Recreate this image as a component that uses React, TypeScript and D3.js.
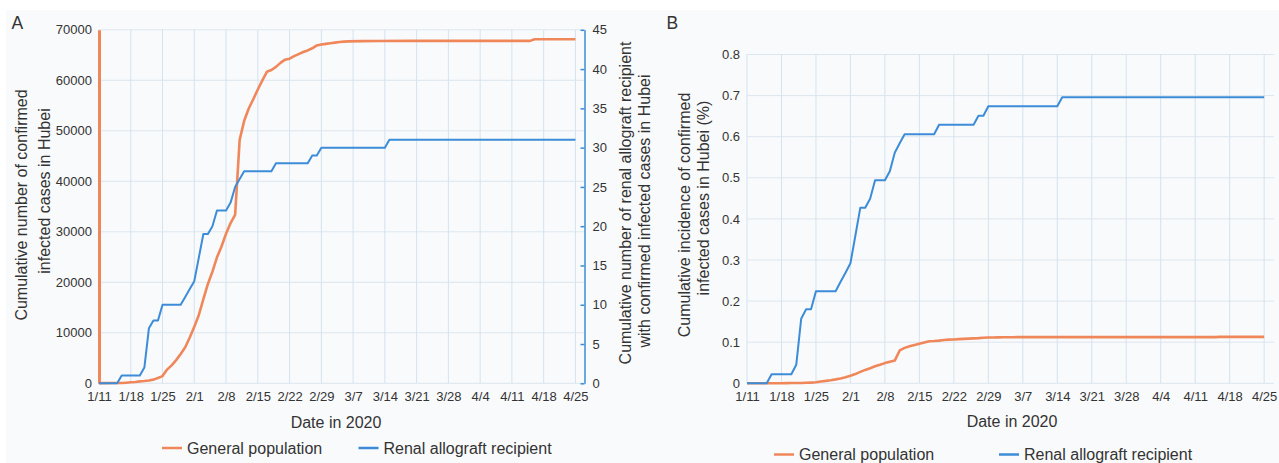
import React, { useEffect, useRef } from "react";
import * as d3 from "d3";

// x-axis tick labels (weekly)
const dateTicks = ["1/11", "1/18", "1/25", "2/1", "2/8", "2/15", "2/22", "2/29", "3/7", "3/14", "3/21", "3/28", "4/4", "4/11", "4/18", "4/25"];

// general population, cumulative confirmed cases in Hubei
const generalDates = ["1/11", "1/15", "1/16", "1/17", "1/18", "1/19", "1/20", "1/21", "1/22", "1/23", "1/24", "1/25", "1/26", "1/27", "1/28", "1/29", "1/30", "1/31", "2/1", "2/2", "2/3", "2/4", "2/5", "2/6", "2/7", "2/8", "2/9", "2/10", "2/11", "2/12", "2/13", "2/14", "2/15", "2/16", "2/17", "2/18", "2/19", "2/20", "2/21", "2/22", "2/23", "2/24", "2/25", "2/26", "2/27", "2/28", "2/29", "3/1", "3/2", "3/3", "3/4", "3/5", "3/6", "3/9", "3/13", "3/20", "4/15", "4/16", "4/25"];
const generalCases = [41, 45, 62, 121, 198, 270, 375, 444, 549, 729, 1052, 1423, 2714, 3554, 4586, 5806, 7153, 9074, 11177, 13522, 16678, 19665, 22112, 24953, 27100, 29631, 31728, 33366, 48206, 51986, 54406, 56249, 58182, 59989, 61682, 62031, 62662, 63454, 64084, 64287, 64786, 65187, 65596, 65914, 66337, 66907, 67103, 67217, 67332, 67466, 67592, 67666, 67707, 67760, 67790, 67800, 67803, 68128, 68128];
const generalIncidence = [0.0001, 0.0001, 0.0001, 0.0002, 0.0003, 0.0004, 0.0006, 0.0007, 0.0009, 0.0012, 0.0017, 0.0024, 0.0045, 0.0059, 0.0076, 0.0096, 0.0119, 0.015, 0.0185, 0.0224, 0.0277, 0.0326, 0.0367, 0.0414, 0.0449, 0.0491, 0.0526, 0.0553, 0.0799, 0.0862, 0.0902, 0.0933, 0.0965, 0.0995, 0.1023, 0.1029, 0.1039, 0.1052, 0.1063, 0.1066, 0.1074, 0.1081, 0.1088, 0.1093, 0.11, 0.111, 0.1113, 0.1115, 0.1117, 0.1119, 0.1121, 0.1122, 0.1123, 0.1124, 0.1124, 0.1124, 0.1124, 0.113, 0.113];

// renal allograft recipients
const renalDates = ["1/11", "1/15", "1/16", "1/20", "1/21", "1/22", "1/23", "1/24", "1/25", "1/29", "1/30", "1/31", "2/1", "2/2", "2/3", "2/4", "2/5", "2/6", "2/8", "2/9", "2/10", "2/11", "2/12", "2/18", "2/19", "2/26", "2/27", "2/28", "2/29", "3/14", "3/15", "4/25"];
const renalCases = [0, 0, 1, 1, 2, 7, 8, 8, 10, 10, 11, 12, 13, 16, 19, 19, 20, 22, 22, 23, 25, 26, 27, 27, 28, 28, 29, 29, 30, 30, 31, 31];
const renalIncidence = [0, 0, 0.022, 0.022, 0.045, 0.157, 0.18, 0.18, 0.224, 0.224, 0.247, 0.269, 0.292, 0.359, 0.427, 0.427, 0.449, 0.494, 0.494, 0.516, 0.561, 0.584, 0.606, 0.606, 0.629, 0.629, 0.651, 0.651, 0.674, 0.674, 0.696, 0.696];

const W = 1279;
const H = 463;
const ORANGE = "#f0875a";
const BLUE = "#3c8cd7";
const GRID_V = "#d3e3f0";
const GRID_H = "#dde6ee";
const TEXT = "#333";
const FONT = "'Liberation Sans', Arial, sans-serif";

const parseDate = (s: string) => d3.timeParse("%Y/%m/%d")("2020/" + s) as Date;

export default function App() {
  const svgRef = useRef<SVGSVGElement>(null);

  useEffect(() => {
    const svg = d3.select(svgRef.current);
    svg.selectAll("*").remove();

    svg.append("rect").attr("x", 6).attr("y", 10).attr("width", W).attr("height", H).attr("fill", "#f9fafc");

    const start = parseDate("1/11");
    const end = parseDate("4/27");
    const tickDates = dateTicks.map(parseDate);

    const drawPanel = (
      g: d3.Selection<SVGGElement, unknown, null, undefined>,
      x: d3.ScaleTime<number, number>,
      y: d3.ScaleLinear<number, number>,
      yTicks: number[],
      yFmt: (v: number) => string
    ) => {
      const [x0, x1] = x.range();
      const [y0, y1] = y.range();
      // grid
      g.append("g")
        .selectAll("line")
        .data(yTicks)
        .join("line")
        .attr("x1", x0)
        .attr("x2", x1)
        .attr("y1", (d) => y(d))
        .attr("y2", (d) => y(d))
        .attr("stroke", GRID_H);
      g.append("g")
        .selectAll("line")
        .data(tickDates)
        .join("line")
        .attr("x1", (d) => x(d))
        .attr("x2", (d) => x(d))
        .attr("y1", y0)
        .attr("y2", y1)
        .attr("stroke", GRID_V);

      const xAxis = g
        .append("g")
        .attr("transform", `translate(0,${y0})`)
        .call(d3.axisBottom(x).tickValues(tickDates).tickFormat((d) => d3.timeFormat("%-m/%-d")(d as Date)).tickSize(0).tickPadding(8));
      xAxis.select(".domain").remove();

      const yAxis = g
        .append("g")
        .attr("transform", `translate(${x0},0)`)
        .call(d3.axisLeft(y).tickValues(yTicks).tickFormat((d) => yFmt(d as number)).tickSize(0).tickPadding(7));
      return { xAxis, yAxis };
    };

    const styleText = (sel: d3.Selection<any, any, any, any>) =>
      sel.selectAll("text").attr("font-size", 13).attr("font-family", FONT).attr("fill", TEXT);

    // ---------- Panel A ----------
    const gA = svg.append("g");
    const xA = d3.scaleTime().domain([start, end]).range([99, 584.5]);
    const yA = d3.scaleLinear().domain([0, 70000]).range([383.3, 29.8]);
    const yA2 = d3.scaleLinear().domain([0, 45]).range([383.3, 29.8]);
    const a = drawPanel(gA, xA, yA, d3.range(0, 70001, 10000), (v) => String(v));
    styleText(a.xAxis);
    styleText(a.yAxis);
    a.yAxis.select(".domain").attr("stroke", ORANGE).attr("stroke-width", 3);

    const rightAxis = gA
      .append("g")
      .attr("transform", `translate(584.5,0)`)
      .call(d3.axisRight(yA2).tickValues(d3.range(0, 46, 5)).tickSizeInner(-4).tickSizeOuter(0).tickPadding(8));
    rightAxis.select(".domain").attr("stroke", BLUE).attr("stroke-width", 1.5);
    rightAxis.selectAll(".tick line").attr("stroke", BLUE).attr("stroke-width", 1.5);
    styleText(rightAxis);

    const lineA = d3
      .line<[Date, number]>()
      .x((d) => xA(d[0]))
      .y((d) => yA(d[1]));
    const lineA2 = d3
      .line<[Date, number]>()
      .x((d) => xA(d[0]))
      .y((d) => yA2(d[1]));

    gA.append("path")
      .datum(generalDates.map((d, i) => [parseDate(d), generalCases[i]] as [Date, number]))
      .attr("d", lineA)
      .attr("fill", "none")
      .attr("stroke", ORANGE)
      .attr("stroke-width", 2.6)
      .attr("stroke-linejoin", "round");
    gA.append("path")
      .datum(renalDates.map((d, i) => [parseDate(d), renalCases[i]] as [Date, number]))
      .attr("d", lineA2)
      .attr("fill", "none")
      .attr("stroke", BLUE)
      .attr("stroke-width", 2)
      .attr("stroke-linejoin", "round");

    // ---------- Panel B ----------
    const gB = svg.append("g");
    const xB = d3.scaleTime().domain([start, end]).range([747, 1274]);
    const yB = d3.scaleLinear().domain([0, 0.8]).range([383.3, 54.5]);
    const bTicks = d3.range(0, 9).map((i) => i / 10);
    const b = drawPanel(gB, xB, yB, bTicks, (v) => d3.format("~g")(v));
    styleText(b.xAxis);
    styleText(b.yAxis);
    b.yAxis.select(".domain").remove();

    const lineB = d3
      .line<[Date, number]>()
      .x((d) => xB(d[0]))
      .y((d) => yB(d[1]));
    gB.append("path")
      .datum(generalDates.map((d, i) => [parseDate(d), generalIncidence[i]] as [Date, number]))
      .attr("d", lineB)
      .attr("fill", "none")
      .attr("stroke", ORANGE)
      .attr("stroke-width", 2.6)
      .attr("stroke-linejoin", "round");
    gB.append("path")
      .datum(renalDates.map((d, i) => [parseDate(d), renalIncidence[i]] as [Date, number]))
      .attr("d", lineB)
      .attr("fill", "none")
      .attr("stroke", BLUE)
      .attr("stroke-width", 2)
      .attr("stroke-linejoin", "round");

    // ---------- text ----------
    const label = (x: number, y: number, txt: string, size: number, anchor = "middle", rotate = false) =>
      svg
        .append("text")
        .attr("transform", `translate(${x},${y})${rotate ? " rotate(-90)" : ""}`)
        .attr("text-anchor", anchor)
        .attr("font-family", FONT)
        .attr("font-size", size)
        .attr("fill", TEXT)
        .text(txt);

    label(11.5, 29.3, "A", 17.5, "start");
    label(666.5, 29.3, "B", 17.5, "start");

    label(26.5, 205, "Cumulative number of confirmed", 16, "middle", true);
    label(50, 191, "infected cases in Hubei", 16, "middle", true);
    label(631, 203, "Cumulative number of renal allograft recipient", 16, "middle", true);
    label(650, 211, "with confirmed infected cases in Hubei", 16, "middle", true);
    label(690, 215, "Cumulative incidence of confirmed", 16, "middle", true);
    label(708.5, 198, "infected cases in Hubei (%)", 16, "middle", true);

    label(336, 427.5, "Date in 2020", 16);
    label(1012, 427, "Date in 2020", 16);

    // legends
    const legend = (lx: number, ly: number, color: string, txt: string) => {
      svg.append("line").attr("x1", lx).attr("x2", lx + 20).attr("y1", ly).attr("y2", ly).attr("stroke", color).attr("stroke-width", 2.5);
      label(lx + 25, ly + 5.5, txt, 16, "start");
    };
    legend(162, 448, ORANGE, "General population");
    legend(358.5, 448, BLUE, "Renal allograft recipient");
    legend(774, 454.5, ORANGE, "General population");
    legend(999, 454.5, BLUE, "Renal allograft recipient");
  }, []);

  return <svg ref={svgRef} width={W} height={H} style={{ position: "absolute", left: 0, top: 0, background: "#fff" }} />;
}
